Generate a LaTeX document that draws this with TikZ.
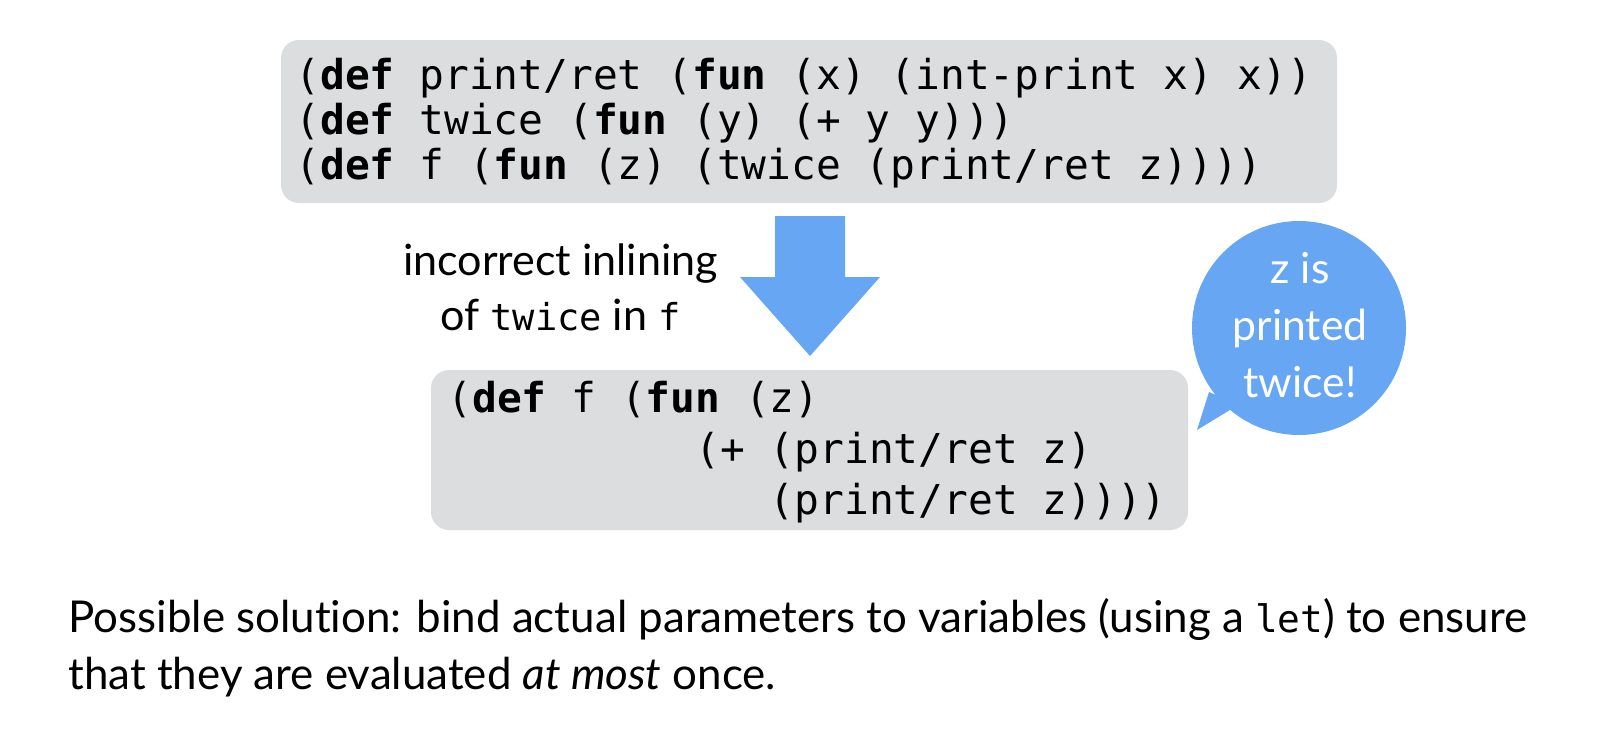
\documentclass[tikz,border=0pt]{standalone}
\usepackage{fontspec}
\setmainfont{Lato}[Ligatures={NoCommon,NoRare}]
\setmonofont{DejaVu Sans Mono}
\newfontfamily\inmono[Scale=0.86]{DejaVu Sans Mono}
\newcommand\icode[1]{{\inmono #1}}
\definecolor{boxgray}{HTML}{DCDDDF}
\definecolor{calloutblue}{HTML}{66A6F2}
\newlength\fitlen
\tikzset{
  codebox/.style={fill=boxgray, rounded corners=9pt, inner sep=0pt, draw=none},
  codeline/.style={anchor=base west, inner sep=0pt, font=\fontsize{20.6pt}{24pt}\selectfont\ttfamily},
  bodyline/.style={anchor=base west, inner sep=0pt, font=\fontsize{\bodyfs pt}{30pt}\selectfont},
  labelline/.style={anchor=base, inner sep=0pt, font=\fontsize{\labelfs pt}{30pt}\selectfont},
  bubbleline/.style={anchor=base, inner sep=0pt, text=white, font=\fontsize{\bubblefs pt}{30pt}\selectfont},
  blockarrow/.style={fill=calloutblue, draw=none},
  bubblefill/.style={fill=calloutblue, draw=none}
}
\begin{document}
\settowidth\fitlen{\fontsize{10pt}{12pt}\selectfont Possible solution: bind actual parameters to variables (using a \icode{let}) to ensure}%
\pgfmathsetmacro\bodyfs{10*729.5/\fitlen}%
\settowidth\fitlen{\fontsize{10pt}{12pt}\selectfont incorrect inlining}%
\pgfmathsetmacro\labelfs{10*157.5/\fitlen}%
\settowidth\fitlen{\fontsize{10pt}{12pt}\selectfont printed}%
\pgfmathsetmacro\bubblefs{10*67.5/\fitlen}%
\begin{tikzpicture}[x=0.5pt,y=-0.5pt]
\fill[white] (0,0) rectangle (1620,740);
\useasboundingbox (0,0) rectangle (1620,740);

% top code box
\node[codebox, minimum width=528pt, minimum height=81.5pt] (defs) at (809,121.5) {};
\node[codeline] (d1) at (295,89) {(\textbf{def} print/ret (\textbf{fun} (x) (int-print x) x))};
\node[codeline] (d2) at (295,134) {(\textbf{def} twice (\textbf{fun} (y) (+ y y)))};
\node[codeline] (d3) at (295,179) {(\textbf{def} f (\textbf{fun} (z) (twice (print/ret z))))};

% block arrow
\fill[blockarrow] (775,216) -- (845,216) -- (845,277) -- (880,277) -- (810,356) -- (740,277) -- (775,277) -- cycle;

% label
\node[labelline] (l1) at (560.5,275) {incorrect inlining};
\node[labelline] (l2) at (560.5,330) {of \icode{twice} in \icode{f}};

% bottom code box
\node[codebox, minimum width=378.5pt, minimum height=80pt] (inl) at (809.5,450) {};
\node[codeline] (i1) at (447,412) {(\textbf{def} f (\textbf{fun} (z)};
\node[codeline] (i2) at (447,463) {\hspace*{6.02em}(+ (print/ret z)};
\node[codeline] (i3) at (447,514) {\hspace*{7.826em}(print/ret z))))};

% speech bubble
\fill[bubblefill] (1299,328) circle[radius=53.5pt];
\fill[bubblefill] (1209,392) -- (1197,430) -- (1238,405) -- cycle;
\node[bubbleline] (b1) at (1300,283) {z is};
\node[bubbleline] (b2) at (1300,340) {printed};
\node[bubbleline] (b3) at (1300,397) {twice!};

% bottom text
\node[bodyline] (t1) at (68,632) {Possible solution: bind actual parameters to variables (using a \icode{let}) to ensure};
\node[bodyline] (t2) at (68,689) {that they are evaluated \textit{at most} once.};
\end{tikzpicture}
\end{document}
